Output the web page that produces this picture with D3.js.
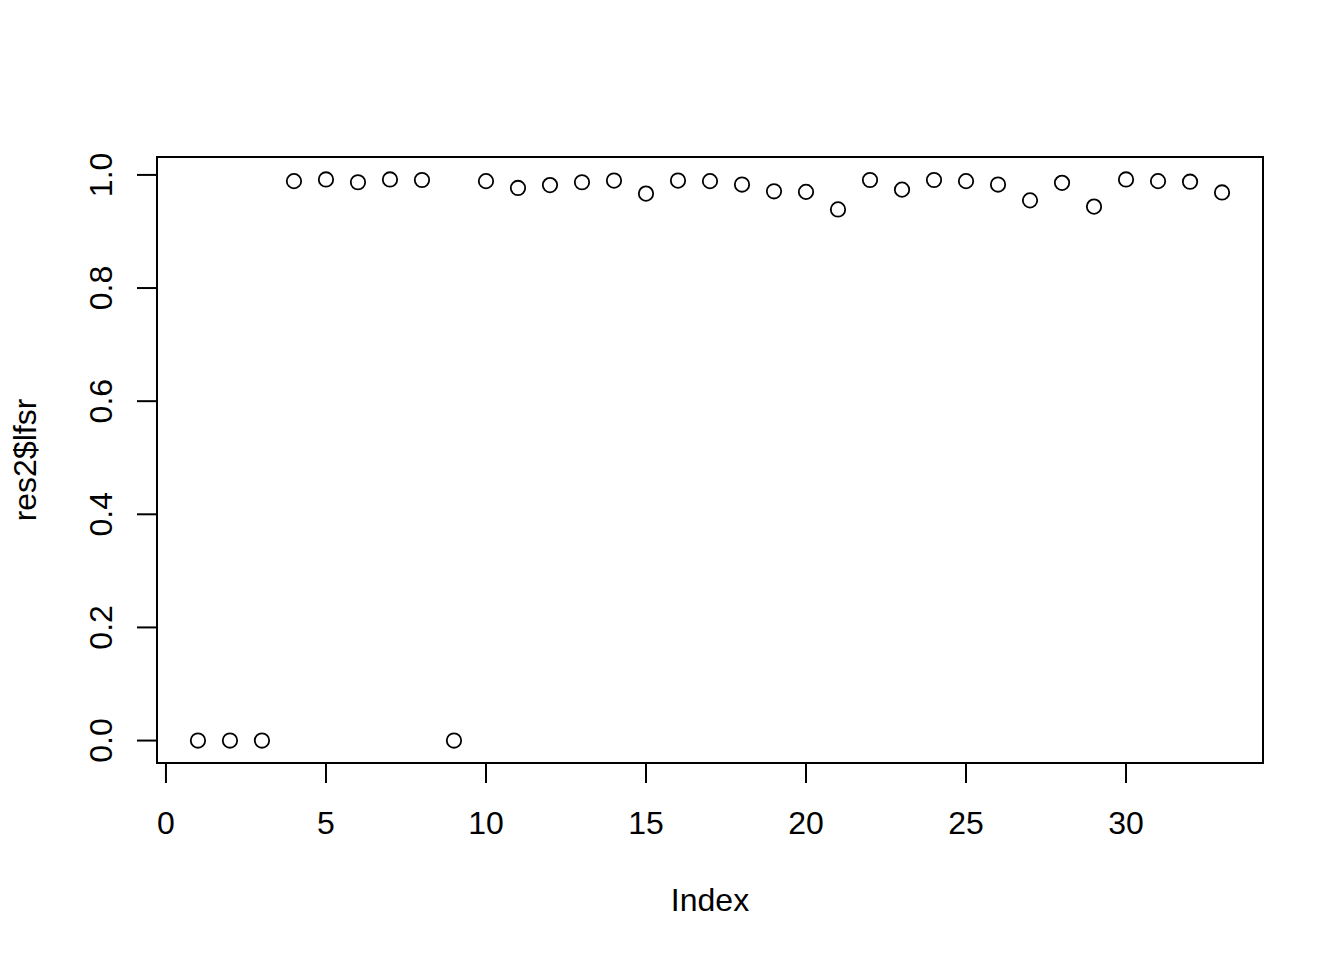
<!DOCTYPE html>
<html>
<head>
<meta charset="utf-8">
<script src="https://cdn.jsdelivr.net/npm/d3@7"></script>
<style>
html,body{margin:0;padding:0;background:#fff;}
svg text{font-family:"Liberation Sans",Arial,Helvetica,sans-serif;fill:#000;}
</style>
</head>
<body>
<svg id="chart" width="1344" height="960"></svg>
<script>
// Data: res2$lfsr by index
const indices = d3.range(1, 34);
const lfsr = [0.000, 0.000, 0.000, 0.989, 0.992, 0.987, 0.992, 0.991, 0.000, 0.989,
              0.977, 0.982, 0.987, 0.990, 0.967, 0.990, 0.989, 0.983, 0.971, 0.970,
              0.939, 0.991, 0.974, 0.991, 0.989, 0.983, 0.955, 0.986, 0.944, 0.992,
              0.989, 0.988, 0.969];
const xTicks = [0, 5, 10, 15, 20, 25, 30];
const yTicks = [0.0, 0.2, 0.4, 0.6, 0.8, 1.0];
const xLabel = "Index";
const yLabel = "res2$lfsr";

const svg = d3.select("#chart");
const pL = 157, pR = 1263, pT = 157, pB = 763;

// R-style 4% range extension
const xmin = d3.min(indices), xmax = d3.max(indices);
const ymin = d3.min(lfsr), ymax = d3.max(lfsr);
const xr = xmax - xmin, yr = ymax - ymin;
const x = d3.scaleLinear().domain([xmin - 0.04 * xr, xmax + 0.04 * xr]).range([pL, pR]);
const y = d3.scaleLinear().domain([ymin - 0.04 * yr, ymax + 0.04 * yr]).range([pB, pT]);

const fs = 32;
const tickLen = 20;

// X axis
const gx = svg.append("g").attr("transform", `translate(0,${pB})`);
gx.append("line").attr("x1", x(xTicks[0])).attr("x2", x(xTicks[xTicks.length - 1]))
  .attr("y1", 0).attr("y2", 0).attr("stroke", "#000").attr("stroke-width", 2);
gx.selectAll("line.tick").data(xTicks).enter().append("line").attr("class", "tick")
  .attr("x1", d => x(d)).attr("x2", d => x(d)).attr("y1", 0).attr("y2", tickLen)
  .attr("stroke", "#000").attr("stroke-width", 2);
gx.selectAll("text").data(xTicks).enter().append("text")
  .attr("x", d => x(d)).attr("y", 71).attr("text-anchor", "middle")
  .attr("font-size", fs).text(d => d3.format("d")(d));

// Y axis
const gy = svg.append("g").attr("transform", `translate(${pL},0)`);
gy.append("line").attr("x1", 0).attr("x2", 0)
  .attr("y1", y(yTicks[0])).attr("y2", y(yTicks[yTicks.length - 1]))
  .attr("stroke", "#000").attr("stroke-width", 2);
gy.selectAll("line.tick").data(yTicks).enter().append("line").attr("class", "tick")
  .attr("x1", 0).attr("x2", -tickLen).attr("y1", d => y(d)).attr("y2", d => y(d))
  .attr("stroke", "#000").attr("stroke-width", 2);
gy.selectAll("text").data(yTicks).enter().append("text")
  .attr("transform", d => `translate(-45,${y(d)}) rotate(-90)`)
  .attr("text-anchor", "middle")
  .attr("font-size", fs).text(d => d3.format(".1f")(d));

// Box
svg.append("rect").attr("x", pL).attr("y", pT)
  .attr("width", pR - pL).attr("height", pB - pT)
  .attr("fill", "none").attr("stroke", "#000").attr("stroke-width", 2);

// Axis titles
svg.append("text").attr("x", (pL + pR) / 2).attr("y", 911)
  .attr("text-anchor", "middle").attr("font-size", fs).text(xLabel);
svg.append("text").attr("transform", `translate(36,${(pT + pB) / 2}) rotate(-90)`)
  .attr("text-anchor", "middle").attr("font-size", fs).text(yLabel);

// Points
svg.append("g").selectAll("circle").data(indices.map((d, i) => [d, lfsr[i]]))
  .enter().append("circle")
  .attr("cx", d => x(d[0])).attr("cy", d => y(d[1])).attr("r", 7.2)
  .attr("fill", "none").attr("stroke", "#000").attr("stroke-width", 1.8);
</script>
</body>
</html>
